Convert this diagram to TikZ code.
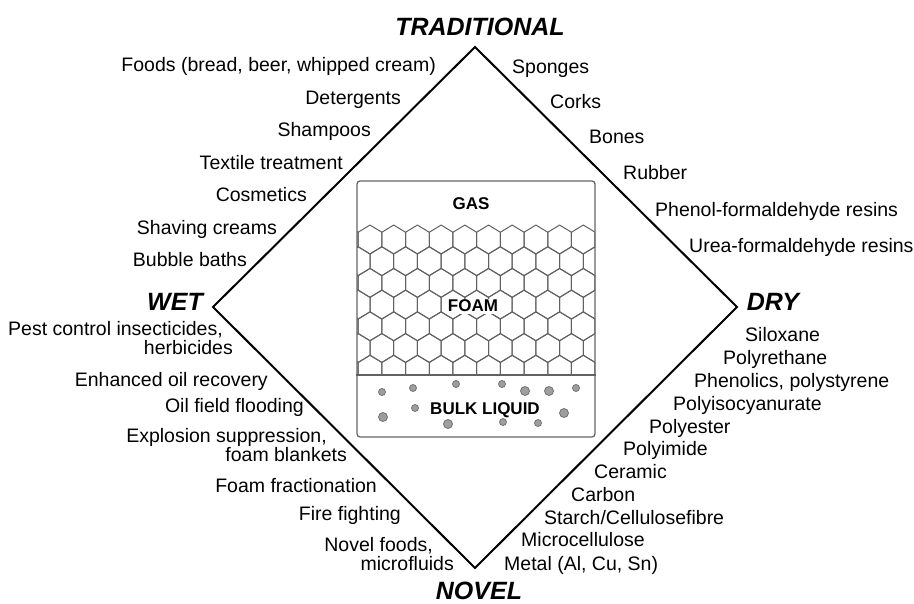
\documentclass[tikz,border=0pt]{standalone}
\usepackage{fontspec}
\setmainfont{Liberation Sans}
\usetikzlibrary{positioning}

\begin{document}
\begin{tikzpicture}[x=1pt, y=-1pt, every node/.style={inner sep=0pt}, lbl/.style={font=\fontsize{19.5}{20}\selectfont}, lleft/.style={lbl, anchor=base east}, lright/.style={lbl, anchor=base west}, corner/.style={font=\fontsize{25}{26}\selectfont\bfseries\itshape, anchor=base}, phase/.style={font=\fontsize{17}{18}\selectfont\bfseries, anchor=base}, cell/.style={draw=black!62, line width=1pt, line join=round}, bubble/.style={draw=black!55, fill=black!38, line width=0.8pt}]
\useasboundingbox (0,0) rectangle (914,604);
% diamond
\coordinate (trad) at (475,47);
\coordinate (dry) at (737,307);
\coordinate (novel) at (475,568);
\coordinate (wet) at (213,307);
\draw[line width=2pt, line join=miter] (trad)--(dry)--(novel)--(wet)--cycle;
\node[corner] (tradlabel) at (480,36) {TRADITIONAL};
\node[corner] (wetlabel) at (175,311) {WET};
\node[corner] (drylabel) at (773,311) {DRY};
\node[corner] (novellabel) at (479,599) {NOVEL};
% foam cell
\node[draw=black!60, line width=1.3pt, rounded corners=3pt, minimum width=238pt, minimum height=256pt] (box) at (476,309) {};
\coordinate (surface) at (476,375);
\begin{scope}
\clip (357,181) rectangle (595,375);
\foreach \r in {0,...,6}{
  \foreach \k in {-1,...,10}{
    \pgfmathsetmacro\cx{370+23.7*\k+11.85*mod(\r,2)}
    \pgfmathsetmacro\cy{239.5+21.7*\r}
    \draw[cell] (\cx,\cy) +(0,-14.45) -- +(11.85,-7.25) -- +(11.85,7.25) -- +(0,14.45) -- +(-11.85,7.25) -- +(-11.85,-7.25) -- cycle;
  }
}
\end{scope}
\draw[black!62, line width=1.2pt] (box.west |- surface) -- (box.east |- surface);
\foreach \x/\y/\r in {382/392/3.5, 413/388/3.5, 456/384/3.5, 502/384/3.5, 525/391/4.5, 549/391/4.5, 576/388/3.5, 383/417/4.5, 415/408/3.5, 448/424/4.5, 503/422/3.5, 538/423/3.5, 564/413/4.5}
  \draw[bubble] (\x,\y) circle[radius=\r pt];
\node[phase] (gas) at (471,210) {GAS};
\node[phase, fill=white, inner sep=1.5pt] (foam) at (473,312) {FOAM};
\node[phase] (liquid) at (485,414) {BULK LIQUID};
% traditional, wet
\node[lleft] (foods) at (436,72) {Foods (bread, beer, whipped cream)};
\node[lleft] (detergents) at (401,105) {Detergents};
\node[lleft] (shampoos) at (371,137) {Shampoos};
\node[lleft] (textile) at (343,170) {Textile treatment};
\node[lleft] (cosmetics) at (307,202) {Cosmetics};
\node[lleft] (shaving) at (277,235) {Shaving creams};
\node[lleft] (baths) at (247,267) {Bubble baths};
% traditional, dry
\node[lright] (sponges) at (512,74) {Sponges};
\node[lright] (corks) at (550,109) {Corks};
\node[lright] (bones) at (589,144) {Bones};
\node[lright] (rubber) at (623,180) {Rubber};
\node[lright] (phenol) at (655,217) {Phenol-formaldehyde resins};
\node[lright] (urea) at (689,253) {Urea-formaldehyde resins};
% novel, wet
\node[lleft] (pest) at (223,336) {Pest control insecticides,};
\node[lleft] (herbicides) at (233,355) {herbicides};
\node[lleft] (oilrecovery) at (268,386) {Enhanced oil recovery};
\node[lleft] (flooding) at (304,413) {Oil field flooding};
\node[lleft] (explosion) at (327,442) {Explosion suppression,};
\node[lleft] (blankets) at (347,461) {foam blankets};
\node[lleft] (fractionation) at (377,492) {Foam fractionation};
\node[lleft] (fire) at (401,520) {Fire fighting};
\node[lleft] (novelfoods) at (433,551) {Novel foods,};
\node[lleft] (microfluids) at (454,570) {microfluids};
% novel, dry
\node[lright] (siloxane) at (745,342) {Siloxane};
\node[lright] (polyrethane) at (723,365) {Polyrethane};
\node[lright] (phenolics) at (694,388) {Phenolics, polystyrene};
\node[lright] (polyiso) at (673,410) {Polyisocyanurate};
\node[lright] (polyester) at (649,433) {Polyester};
\node[lright] (polyimide) at (623,455) {Polyimide};
\node[lright] (ceramic) at (594,478) {Ceramic};
\node[lright] (carbon) at (571,501) {Carbon};
\node[lright] (starch) at (544,524) {Starch/Cellulosefibre};
\node[lright] (microcell) at (521,546) {Microcellulose};
\node[lright] (metal) at (504,570) {Metal (Al, Cu, Sn)};
\end{tikzpicture}
\end{document}
